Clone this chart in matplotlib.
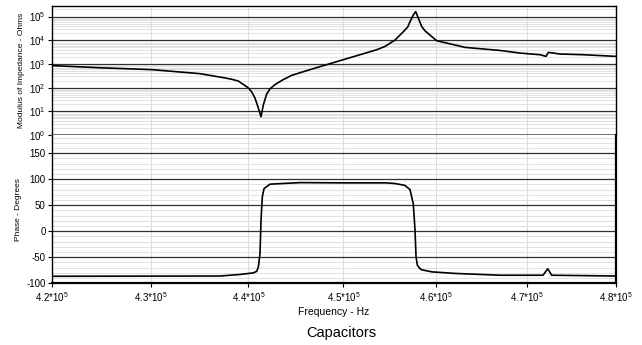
import numpy as np
import matplotlib.pyplot as plt
from matplotlib.ticker import FixedLocator, MultipleLocator, NullFormatter, NullLocator

plt.rcParams['font.family'] = ['Liberation Sans', 'DejaVu Sans']
plt.rcParams['mathtext.fontset'] = 'custom'
plt.rcParams['mathtext.rm'] = 'Liberation Sans'
plt.rcParams['axes.unicode_minus'] = False

# impedance modulus (Hz, Ohms)
z_freq = [420000, 424800, 430064, 434977, 437561, 438392, 438942, 439980, 440336,
          440681, 441025, 441306, 441547, 441902, 442248, 442772, 443642, 444524,
          446454, 449988, 453562, 454453, 455531, 456427, 456905, 457153, 457506,
          457769, 457986, 458422, 458778, 459507, 460051, 460954, 461502, 463146,
          466998, 469216, 471442, 472111, 472370, 473679, 476297, 480000]
z_mod = [851, 692, 575, 389, 257, 219, 190, 98, 66,
         36, 13.8, 5.9, 18.6, 54, 89, 135, 219, 331,
         575, 1514, 3981, 5495, 10233, 22909, 36308, 60256, 117490,
         162181, 100000, 38019, 25119, 14454, 9550, 7943, 7079, 5012,
         3715, 2884, 2455, 2089, 3090, 2630, 2455, 2089]

# phase (Hz, degrees)
p_freq = [420000, 437044, 439118, 440500, 440857, 441025, 441202, 441306, 441443,
          441621, 442248, 445399, 449988, 454636, 455531, 456070, 456611, 457153,
          457506, 457695, 457804, 457943, 458237, 458422, 459507, 462046, 466998,
          471778, 472303, 472748, 480000]
p_deg = [-86.5, -86, -83, -80, -77, -69, -43, 21, 66,
         82, 90.5, 93.5, 93, 93, 91.7, 90, 88, 80,
         53, 2, -49, -65, -72, -74, -78, -81, -84.5,
         -84.5, -72, -84.5, -86]

x_ticks = [4.2e5, 4.3e5, 4.4e5, 4.5e5, 4.6e5, 4.7e5, 4.8e5]
x_labels = [r'%.1f*10$^{5}$' % (t / 1e5) for t in x_ticks]
z_ticks = [1, 10, 100, 1000, 10000, 100000]
z_labels = [r'10$^{%d}$' % i for i in range(6)]
p_ticks = [-100, -50, 0, 50, 100, 150]

fig = plt.figure(figsize=(6.42, 3.45), dpi=100)
L, R = 52 / 642, 616 / 642
y_mid = 1 - 135 / 345
ax1 = fig.add_axes([L, y_mid, R - L, (1 - 5.7 / 345) - y_mid])
y_bot = 1 - 283.3 / 345
ax2 = fig.add_axes([L, y_bot, R - L, y_mid - y_bot])

major_kw = dict(color='#303030', lw=0.9)
minor_kw = dict(color='#dcdcdc', lw=0.6)
vert_kw = dict(color='#dddddd', lw=0.8)

for ax in (ax1, ax2):
    ax.set_xscale('log')
    ax.set_xlim(4.2e5, 4.8e5)
    ax.xaxis.set_major_locator(FixedLocator(x_ticks))
    ax.xaxis.set_minor_locator(NullLocator())
    ax.xaxis.set_minor_formatter(NullFormatter())
    ax.grid(True, which='minor', axis='y', **minor_kw)
    ax.grid(True, which='major', axis='y', **major_kw)
    ax.grid(True, which='major', axis='x', **vert_kw)
    ax.set_axisbelow(True)
    ax.tick_params(axis='y', which='major', direction='out', length=3, width=0.8,
                   labelsize=7, pad=1.5)
    ax.tick_params(axis='y', which='minor', length=0)
    for s in ax.spines.values():
        s.set_color('black')
        s.set_linewidth(1.0)

# upper panel: modulus
ax1.plot(z_freq, z_mod, color='black', lw=1.2)
ax1.set_yscale('log')
ax1.set_ylim(1, 10 ** 5.46)
ax1.yaxis.set_major_locator(FixedLocator(z_ticks))
ax1.set_yticklabels(z_labels)
ax1.yaxis.set_minor_locator(FixedLocator(
    [m * 10 ** d for d in range(0, 6) for m in range(2, 10)]))
ax1.yaxis.set_minor_formatter(NullFormatter())
ax1.tick_params(axis='x', which='both', length=0, labelbottom=False)
ax1.spines['bottom'].set_color('#707070')
ax1.spines['bottom'].set_linewidth(1.4)
ax1.set_ylabel('Modulus of Impedance - Ohms', fontsize=6, labelpad=3)

# lower panel: phase
ax2.plot(p_freq, p_deg, color='black', lw=1.2)
ax2.set_ylim(-100, 185)
ax2.yaxis.set_major_locator(FixedLocator(p_ticks))
ax2.yaxis.set_minor_locator(MultipleLocator(10))
ax2.set_xticklabels(x_labels)
ax2.tick_params(axis='x', which='major', direction='out', length=3, width=0.8,
                labelsize=7, pad=2)
ax2.spines['top'].set_visible(False)
ax2.spines['bottom'].set_linewidth(1.6)
ax2.spines['right'].set_linewidth(1.6)
ax2.set_ylabel('Phase - Degrees', fontsize=6, labelpad=3)

fig.text(334 / 642, 1 - 311.7 / 345, 'Frequency - Hz', ha='center', va='center',
         fontsize=7.5)
fig.text(341 / 642, 1 - 332.7 / 345, 'Capacitors', ha='center', va='center',
         fontsize=10.5)

fig.savefig('out.png', dpi=100)
